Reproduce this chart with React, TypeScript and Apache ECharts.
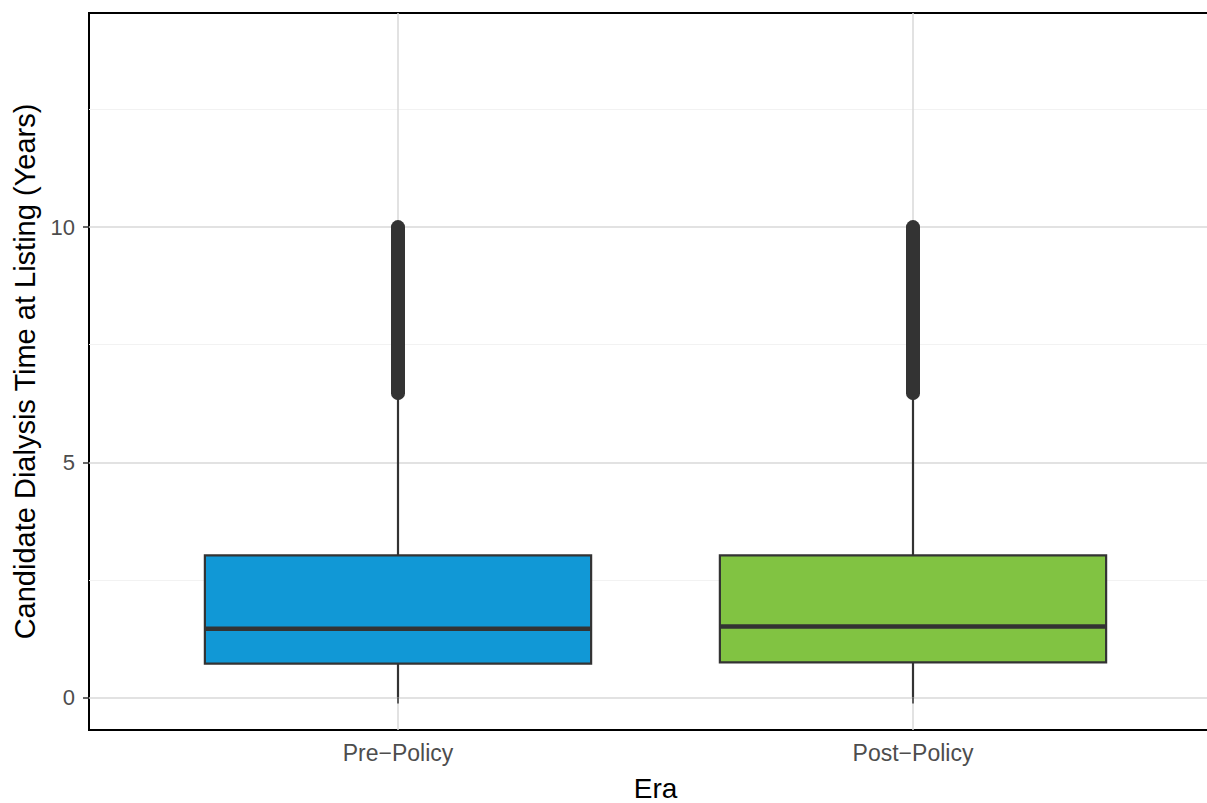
import React, { useEffect, useRef } from "react";
import * as echarts from "echarts";

const categories = ["Pre−Policy", "Post−Policy"];
const categoryPositions = [1, 2];
const whiskerLow = [0, 0];
const q1 = [0.72, 0.745];
const median = [1.46, 1.51];
const q3 = [3.02, 3.02];
const whiskerHigh = [6.45, 6.45];
const outlierMin = [6.47, 6.47];
const outlierMax = [10, 10];
const yTicks = [0, 5, 10];
const yMinorTicks = [2.5, 7.5, 12.5];

const fillColors = ["#1198D6", "#81C342"];
const FONT = "'Liberation Sans', Arial, Helvetica, sans-serif";

export default function App() {
  const ref = useRef<HTMLDivElement>(null);

  useEffect(() => {
    if (!ref.current) return;
    const chart = echarts.init(ref.current, null, { renderer: "svg" });

    const data = categories.map((_, i) => [
      categoryPositions[i],
      whiskerLow[i],
      q1[i],
      median[i],
      q3[i],
      whiskerHigh[i],
      outlierMin[i],
      outlierMax[i],
      i,
    ]);

    const dark = "#333333";

    chart.setOption({
      animation: false,
      backgroundColor: "#ffffff",
      textStyle: { fontFamily: FONT },
      grid: {
        left: 89,
        top: 13,
        width: 1133,
        height: 717,
        show: true,
        borderColor: "#000000",
        borderWidth: 2,
        backgroundColor: "transparent",
        containLabel: false,
        outerBoundsMode: "none",
      },
      xAxis: {
        type: "value",
        min: 0.4,
        max: 2.6,
        name: "Era",
        nameLocation: "middle",
        nameGap: 44,
        nameTextStyle: { fontSize: 28, color: "#000000", fontFamily: FONT },
        axisLine: { show: false },
        axisTick: {
          show: true,
          customValues: categoryPositions,
          length: 6,
          lineStyle: { color: dark, width: 1.5 },
        },
        axisLabel: {
          customValues: categoryPositions,
          formatter: (v: number) => categories[Math.round(v) - 1] ?? "",
          fontSize: 23,
          color: "#4D4D4D",
          margin: 11,
          fontFamily: FONT,
        },
        splitLine: { show: true, lineStyle: { color: "#D9D9D9", width: 1.5 } },
      },
      yAxis: [
        {
          type: "value",
          min: -0.693,
          max: 14.553,
          name: "Candidate Dialysis Time at Listing (Years)",
          nameLocation: "middle",
          nameGap: 44,
          nameTextStyle: { fontSize: 29, color: "#000000", fontFamily: FONT },
          axisLine: { show: false },
          axisTick: {
            show: true,
            customValues: yTicks,
            length: 6,
            lineStyle: { color: dark, width: 1.5 },
          },
          axisLabel: {
            customValues: yTicks,
            fontSize: 22,
            color: "#4D4D4D",
            margin: 14,
            fontFamily: FONT,
          },
          splitLine: { show: true, lineStyle: { color: "#D9D9D9", width: 1.5 } },
        },
        {
          type: "value",
          min: -0.693,
          max: 14.553,
          position: "left",
          axisLine: { show: false },
          axisTick: { show: false, customValues: yMinorTicks },
          axisLabel: { show: false, customValues: yMinorTicks },
          splitLine: { show: true, lineStyle: { color: "#F2F2F2", width: 1 } },
        },
      ],
      series: [
        {
          type: "custom",
          coordinateSystem: "cartesian2d",
          xAxisIndex: 0,
          yAxisIndex: 0,
          encode: { x: 0, y: [1, 2, 3, 4, 5, 6, 7] },
          data,
          renderItem: (params: any, api: any) => {
            const x = api.value(0);
            const lo = api.value(1);
            const b1 = api.value(2);
            const med = api.value(3);
            const b3 = api.value(4);
            const hi = api.value(5);
            const oMin = api.value(6);
            const oMax = api.value(7);
            const idx = api.value(8);
            const halfW = 0.375;

            const pLo = api.coord([x, lo]);
            const pB1 = api.coord([x, b1]);
            const pB3 = api.coord([x, b3]);
            const pHi = api.coord([x, hi]);
            const pOMin = api.coord([x, oMin]);
            const pOMax = api.coord([x, oMax]);
            const tl = api.coord([x - halfW, b3]);
            const br = api.coord([x + halfW, b1]);
            const mL = api.coord([x - halfW, med]);
            const mR = api.coord([x + halfW, med]);

            return {
              type: "group",
              children: [
                {
                  type: "line",
                  shape: { x1: pOMin[0], y1: pOMin[1], x2: pOMax[0], y2: pOMax[1] },
                  style: { stroke: dark, lineWidth: 14, lineCap: "round" },
                },
                {
                  type: "line",
                  shape: { x1: pLo[0], y1: pLo[1], x2: pB1[0], y2: pB1[1] },
                  style: { stroke: dark, lineWidth: 2.2 },
                },
                {
                  type: "line",
                  shape: { x1: pB3[0], y1: pB3[1], x2: pHi[0], y2: pHi[1] },
                  style: { stroke: dark, lineWidth: 2.2 },
                },
                {
                  type: "rect",
                  shape: { x: tl[0], y: tl[1], width: br[0] - tl[0], height: br[1] - tl[1] },
                  style: { fill: fillColors[idx], stroke: dark, lineWidth: 2.2 },
                },
                {
                  type: "line",
                  shape: { x1: mL[0], y1: mL[1], x2: mR[0], y2: mR[1] },
                  style: { stroke: dark, lineWidth: 4.5 },
                },
              ],
            };
          },
        },
      ],
    });

    return () => chart.dispose();
  }, []);

  return (
    <div
      style={{
        position: "absolute",
        left: 0,
        top: 0,
        width: 1207,
        height: 803,
        overflow: "hidden",
        background: "#ffffff",
      }}
    >
      <div ref={ref} style={{ width: 1240, height: 803 }} />
    </div>
  );
}
